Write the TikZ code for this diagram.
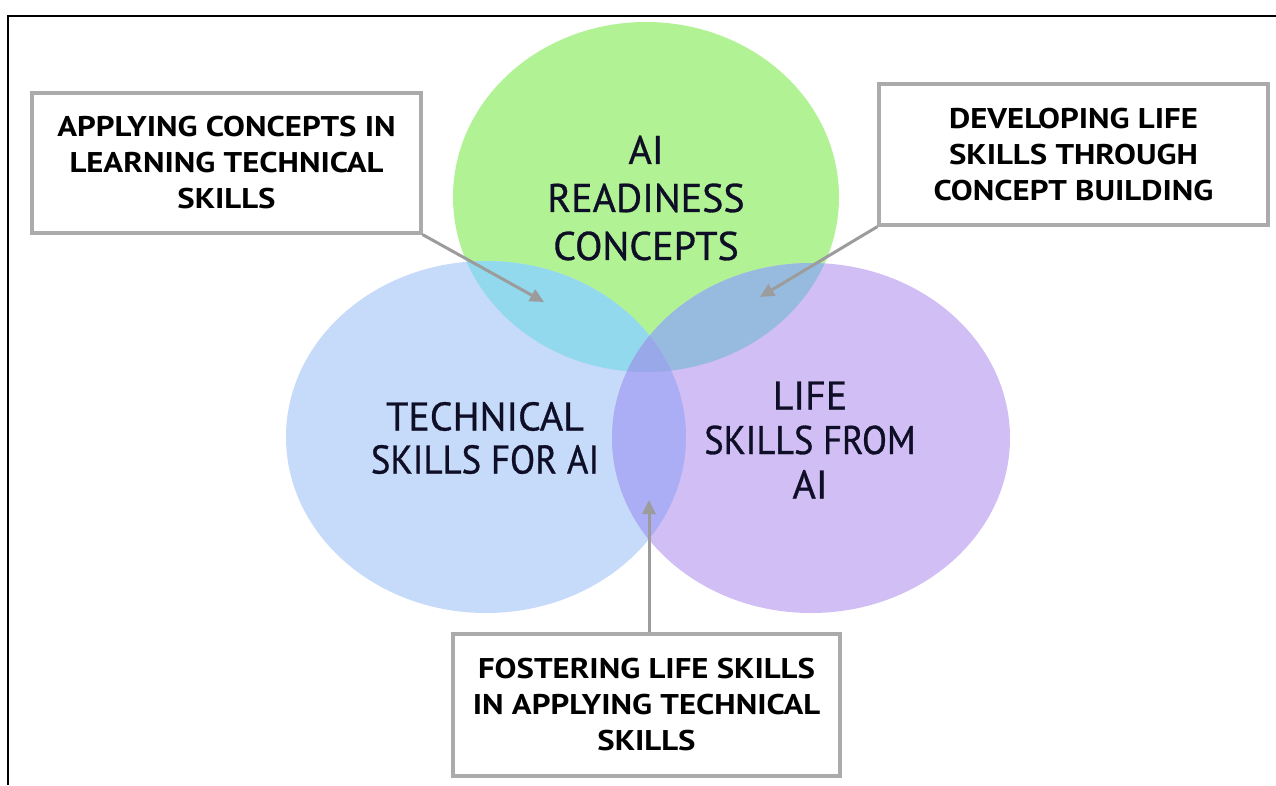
\documentclass[tikz,border=0pt]{standalone}
\usepackage{fontspec}
\setmainfont{PT Sans}
\newfontfamily\circfont[FakeBold=0.8]{PT Sans}
\newfontfamily\boxfont[FakeStretch=1.15]{PT Sans Bold}
\usetikzlibrary{arrows.meta}
\definecolor{cgreen}{HTML}{B1F294}
\definecolor{cblue}{HTML}{C6DAFA}
\definecolor{cpurple}{HTML}{D1BEF5}
\definecolor{cgb}{HTML}{92D9EE}
\definecolor{cgp}{HTML}{97BBDE}
\definecolor{cbp}{HTML}{ABAEF5}
\definecolor{cgbp}{HTML}{98A8E8}
\definecolor{boxgray}{HTML}{ABABAB}
\definecolor{arrgray}{HTML}{9C9C9C}
\definecolor{navy}{HTML}{0E0E26}
\tikzset{
  labelbox/.style={draw=boxgray, line width=3.2pt, fill=white, align=center, inner sep=0pt,
     font=\boxfont\fontsize{28.5}{36}\selectfont, text=black},
  circtext/.style={align=center, text=navy, inner sep=0pt},
  arr/.style={draw=arrgray, line width=3pt, -{Triangle[length=14pt,width=13pt]}}
}
\begin{document}
\begin{tikzpicture}[x=1pt,y=-1pt]
\useasboundingbox (0,0) rectangle (1276,785);
% frame
\draw[line width=1.6pt] (8,785) -- (8,16) -- (1276,16);
% ellipses
\fill[cgreen] (646,197) ellipse [x radius=193pt, y radius=175pt];
\fill[cblue] (486,437) ellipse [x radius=200pt, y radius=176pt];
\fill[cpurple] (811,438) ellipse [x radius=199pt, y radius=175pt];
\begin{scope}
  \clip (646,197) ellipse [x radius=193pt, y radius=175pt];
  \fill[cgb] (486,437) ellipse [x radius=200pt, y radius=176pt];
  \fill[cgp] (811,438) ellipse [x radius=199pt, y radius=175pt];
\end{scope}
\begin{scope}
  \clip (486,437) ellipse [x radius=200pt, y radius=176pt];
  \fill[cbp] (811,438) ellipse [x radius=199pt, y radius=175pt];
  \clip (811,438) ellipse [x radius=199pt, y radius=175pt];
  \fill[cgbp] (646,197) ellipse [x radius=193pt, y radius=175pt];
\end{scope}
% circle texts
\node[circtext, font=\circfont\fontsize{40}{48}\selectfont] (tg) at (646,198) {AI\\READINESS\\CONCEPTS};
\node[circtext, font=\circfont\fontsize{40}{43}\selectfont] (tb) at (485,438) {TECHNICAL\\\scalebox{0.92}[1]{SKILLS FOR AI}};
\node[circtext, font=\circfont\fontsize{40}{44.5}\selectfont] (tp) at (810,440) {LIFE\\\scalebox{0.91}[1]{SKILLS FROM}\\AI};
% boxes
\node[labelbox, minimum width=389pt, minimum height=140pt] (b1) at (226.5,163) {APPLYING CONCEPTS IN\\LEARNING TECHNICAL\\SKILLS};
\node[labelbox, minimum width=389pt, minimum height=141pt] (b2) at (1073.5,154.5) {DEVELOPING LIFE\\SKILLS THROUGH\\CONCEPT BUILDING};
\node[labelbox, minimum width=387pt, minimum height=142pt] (b3) at (646.5,705) {FOSTERING LIFE SKILLS\\IN APPLYING TECHNICAL\\SKILLS};
% arrow targets
\coordinate (t1) at (544,302);
\coordinate (t2) at (760,297);
\coordinate (t3) at (649,500);
\draw[arr] (b1.south east) -- (t1);
\draw[arr] (b2.south west) -- (t2);
\draw[arr] (b3.north -| t3) -- (t3);
\end{tikzpicture}
\end{document}
